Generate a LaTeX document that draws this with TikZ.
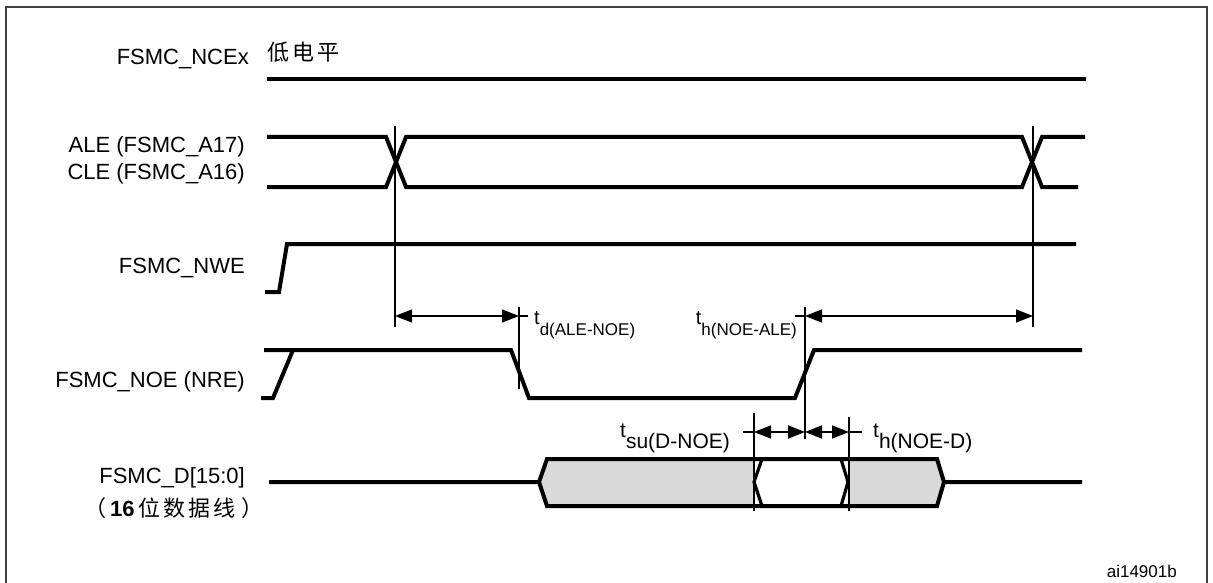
\documentclass[tikz,border=0pt]{standalone}
\usepackage{fontspec}
\setmainfont{Liberation Sans}
\newfontfamily\cjk{Noto Sans CJK SC}
\usetikzlibrary{arrows.meta}
\newcommand\tmlab[4]{\fontsize{#1}{#1}\selectfont t\raisebox{-#3}{\fontsize{#2}{#2}\selectfont #4}}
\begin{document}
\begin{tikzpicture}[x=1pt,y=-1pt,
  sig/.style={line width=4pt, line cap=butt, line join=miter},
  edgeln/.style={line width=3.2pt},
  thin/.style={line width=1.5pt},
  dim/.style={line width=1.5pt, {Triangle[length=17pt,width=13pt]}-{Triangle[length=17pt,width=13pt]}},
  busfill/.style={fill=black!15},
  frame/.style={draw=black!75, line width=1.6pt},
  lab/.style={inner sep=0pt, font=\fontsize{22}{22}\selectfont},
  foot/.style={inner sep=0pt, font=\fontsize{17}{17}\selectfont}]
\useasboundingbox (0,0) rectangle (1213,583);
\clip (0,0) rectangle (1213,583);
\draw[frame] (6,7) rectangle (1207,600);

% signal labels
\node[lab, anchor=base east] (ncex) at (249,65) {FSMC\_NCEx};
\node[lab, anchor=base west] (lowlvl) at (267,61) {\cjk 低\kern3pt 电\kern3pt 平};
\node[lab, anchor=base east] (ale) at (245,153) {ALE (FSMC\_A17)};
\node[lab, anchor=base east] (cle) at (245,179) {CLE (FSMC\_A16)};
\node[lab, anchor=base east] (nwe) at (245,273) {FSMC\_NWE};
\node[lab, anchor=base east] (noe) at (245,387) {FSMC\_NOE (NRE)};
\node[lab, anchor=base east] (dbus) at (245,483) {FSMC\_D[15:0]};
\node[lab, anchor=base west] (dnote) at (84,516) {{\cjk （}\kern4pt{\bfseries 16}\kern4pt{\cjk 位\kern3pt 数\kern3pt 据\kern3pt 线\kern6pt ）}};
\node[foot, anchor=base east] (fig) at (1177,577) {ai14901b};

% FSMC_NCEx
\coordinate (n0) at (267,79); \coordinate (n1) at (1086,79);
\draw[sig] (n0) -- (n1);

% ALE / CLE
\draw[sig] (267,137) -- (386,137) -- (406,187) -- (1022,187) -- (1042,137) -- (1085,137);
\draw[sig] (267,187) -- (386,187) -- (406,137) -- (1022,137) -- (1042,187) -- (1078,187);

% FSMC_NWE
\draw[sig] (265,292) -- (279,292) -- (287,244) -- (1076,244);

% FSMC_NOE
\draw[sig] (261,398) -- (273,398) -- (293,350);
\draw[sig] (264,350) -- (511,350) -- (529,398) -- (795,398) -- (814,350) -- (1082,350);

% data bus
\fill[busfill] (539,482) -- (547,459) -- (754,459) -- (754,506) -- (547,506) -- cycle;
\fill[busfill] (849,459) -- (937,459) -- (944,482) -- (937,506) -- (849,506) -- cycle;
\draw[sig] (269,482) -- (539,482) -- (547,459) -- (937,459) -- (944,482) -- (1082,482);
\draw[sig] (539,482) -- (547,506) -- (937,506) -- (944,482);
\draw[edgeln] (762,459) -- (754,482) -- (762,506);
\draw[edgeln] (841,459) -- (848,482) -- (841,506);

% reference lines
\coordinate (v1t) at (395,126); \coordinate (v1b) at (395,327);
\coordinate (v2t) at (1033,126); \coordinate (v2b) at (1033,327);
\coordinate (v3t) at (519,307); \coordinate (v3b) at (519,389);
\coordinate (v4t) at (805,307); \coordinate (v4b) at (805,439);
\coordinate (v5t) at (754,413); \coordinate (v5b) at (754,511);
\coordinate (v6t) at (849,417); \coordinate (v6b) at (849,511);
\draw[thin] (v1t) -- (v1b);
\draw[thin] (v2t) -- (v2b);
\draw[thin] (v3t) -- (v3b);
\draw[thin] (v4t) -- (v4b);
\draw[thin] (v5t) -- (v5b);
\draw[thin] (v6t) -- (v6b);

% dimension arrows
\coordinate (a1l) at (395,316); \coordinate (a1r) at (519,316);
\coordinate (a2l) at (805,316); \coordinate (a2r) at (1033,316);
\coordinate (a3l) at (754,432); \coordinate (a3m) at (805,432); \coordinate (a3r) at (849,432);
\coordinate (s1) at (528,316); \coordinate (s2) at (795,316);
\coordinate (s3) at (743,432); \coordinate (s4) at (862,432);
\draw[dim] (a1l) -- (a1r);
\draw[dim] (a2l) -- (a2r);
\draw[dim] (a3l) -- (a3m);
\draw[dim] (a3m) -- (a3r);
\draw[thin] (a1r) -- (s1);
\draw[thin] (s2) -- (a2l);
\draw[thin] (s3) -- (a3l);
\draw[thin] (a3r) -- (s4);

% timing labels
\node[inner sep=0pt, anchor=base west] (tdale) at (534,324) {\tmlab{20}{17}{11pt}{d(ALE-NOE)}};
\node[inner sep=0pt, anchor=base east] (thale) at (797,324) {\tmlab{20}{17}{11pt}{h(NOE-ALE)}};
\node[inner sep=0pt, anchor=base west] (tsud) at (620,437) {\tmlab{21}{21}{11pt}{su(D-NOE)}};
\node[inner sep=0pt, anchor=base west] (thd) at (873,437) {\tmlab{21}{21}{11pt}{h(NOE-D)}};
\end{tikzpicture}
\end{document}
